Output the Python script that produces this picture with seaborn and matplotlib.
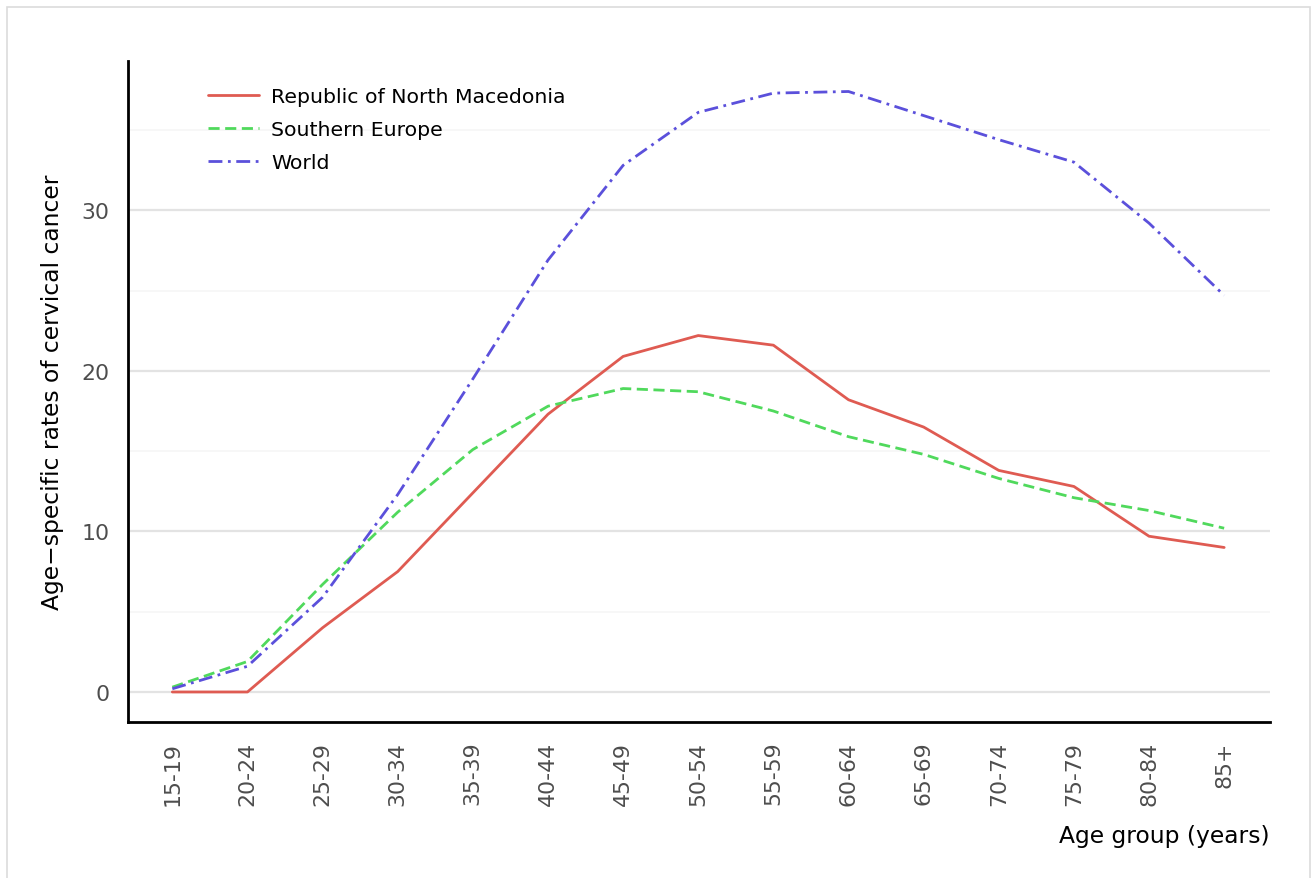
import pandas as pd
import matplotlib.pyplot as plt
import matplotlib.patches as mpatches
from matplotlib.ticker import MultipleLocator
import seaborn as sns

age_groups = ['15-19', '20-24', '25-29', '30-34', '35-39', '40-44', '45-49',
              '50-54', '55-59', '60-64', '65-69', '70-74', '75-79', '80-84', '85+']
macedonia = [0.0, 0.0, 4.0, 7.5, 12.4, 17.3, 20.9, 22.2, 21.6, 18.2, 16.5, 13.8, 12.8, 9.7, 9.0]
southern_europe = [0.3, 1.9, 6.7, 11.2, 15.1, 17.8, 18.9, 18.7, 17.5, 15.9, 14.8, 13.3, 12.1, 11.3, 10.2]
world = [0.2, 1.6, 5.9, 12.3, 19.5, 26.9, 32.8, 36.1, 37.3, 37.4, 35.9, 34.4, 33.0, 29.2, 24.7]
series_names = ['Republic of North Macedonia', 'Southern Europe', 'World']

# long format for seaborn
frames = []
for name, vals in zip(series_names, [macedonia, southern_europe, world]):
    frames.append(pd.DataFrame({'Age': age_groups, 'Rate': vals, 'Region': name}))
df = pd.concat(frames, ignore_index=True)
df['x'] = df['Age'].map({a: i for i, a in enumerate(age_groups)})

palette = {'Republic of North Macedonia': '#DF5B52',
           'Southern Europe': '#50D95C',
           'World': '#5B50DB'}
dashes = {'Republic of North Macedonia': '',
          'Southern Europe': (4, 2),
          'World': (5, 2, 1, 2)}

sns.set_style('white')
plt.rcParams['font.family'] = ['DejaVu Sans']
plt.rcParams['font.sans-serif'] = ['DejaVu Sans']

fig = plt.figure(figsize=(13.12, 8.79), dpi=100)
ax = fig.add_axes([128 / 1312, 1 - 723 / 879, (1270 - 128) / 1312, (723 - 62) / 879])

sns.lineplot(data=df, x='x', y='Rate', hue='Region', style='Region',
             palette=palette, dashes=dashes, linewidth=2, ax=ax,
             hue_order=series_names, style_order=series_names)

ax.set_xlim(-0.59, 14.61)
ax.set_ylim(-1.87, 39.3)
ax.set_xticks(range(len(age_groups)))
ax.set_xticklabels(age_groups, rotation=90)
ax.yaxis.set_major_locator(MultipleLocator(10))
ax.yaxis.set_minor_locator(MultipleLocator(5))
ax.grid(axis='y', which='major', color='#e3e3e3', linewidth=1.6)
ax.grid(axis='y', which='minor', color='#f6f6f6', linewidth=1.2)
ax.set_axisbelow(True)

for s in ['top', 'right']:
    ax.spines[s].set_visible(False)
for s in ['left', 'bottom']:
    ax.spines[s].set_color('black')
    ax.spines[s].set_linewidth(2)
ax.tick_params(axis='both', which='major', direction='out', length=7.5, width=2,
               color='black', labelcolor='#4d4d4d', labelsize=15.8, pad=6)
ax.tick_params(axis='y', which='minor', length=0)

ax.set_xlabel('Age group (years)', fontsize=16.8, loc='right', labelpad=14, color='black')
ax.set_ylabel('Age\u2212specific rates of cervical cancer', fontsize=16.8, labelpad=12,
              color='black')

leg = ax.legend(loc='upper left', bbox_to_anchor=(0.054, 0.988), frameon=False,
                fontsize=14.7, handlelength=2.5, handletextpad=0.6,
                labelspacing=0.68, title=None)
for t in leg.get_texts():
    t.set_color('black')

# light frame around the figure
fig.patches.append(mpatches.Rectangle((7 / 1312, -0.01), 1303 / 1312, 1 - 8 / 879 + 0.01,
                                      transform=fig.transFigure, fill=False,
                                      edgecolor='#dcdcdc', linewidth=1.2))

fig.savefig('out.png', dpi=100)
